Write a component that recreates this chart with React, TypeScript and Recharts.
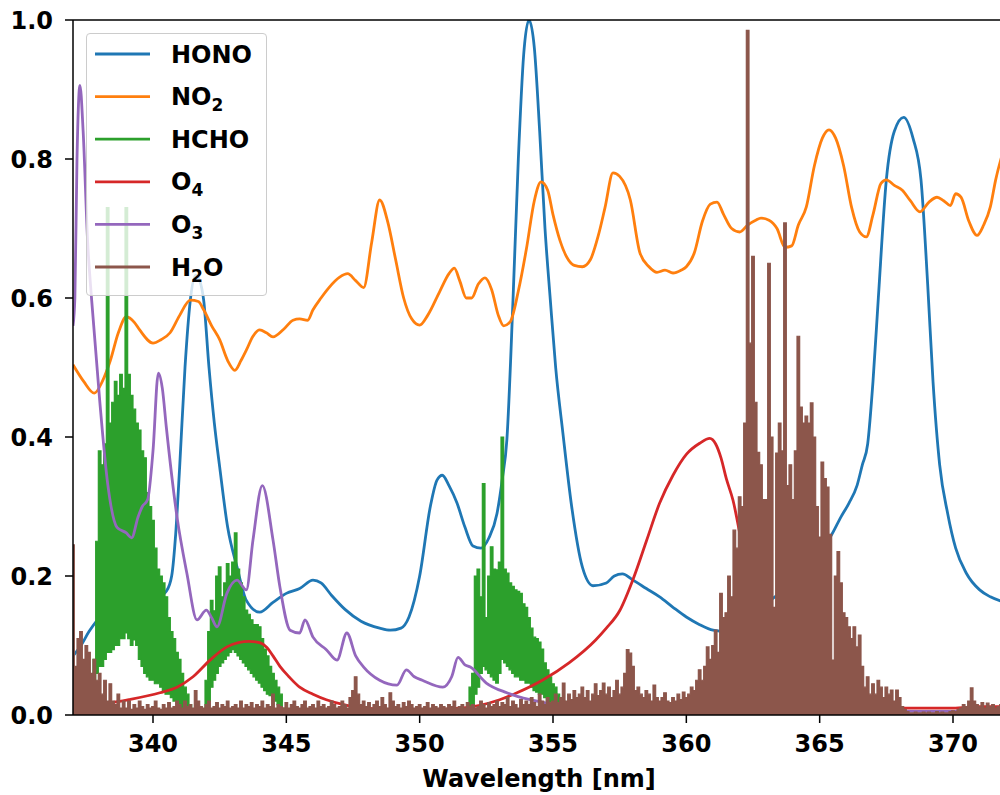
import React from 'react';
import { ComposedChart, Line, Area, XAxis, YAxis, ReferenceLine, Legend } from 'recharts';

// wavelength [nm], value
const honoPoints: [number, number][] = [
  [337.0, 0.085], [337.3, 0.1], [337.6, 0.12], [338.0, 0.14], [338.5, 0.15], [339.0, 0.155],
  [339.5, 0.16], [340.0, 0.167], [340.3, 0.172], [340.5, 0.178], [340.7, 0.2], [340.85, 0.26],
  [341.0, 0.357], [341.2, 0.5], [341.4, 0.597], [341.6, 0.633], [341.75, 0.625], [341.9, 0.597],
  [342.1, 0.5], [342.3, 0.42], [342.5, 0.357], [342.8, 0.27], [343.15, 0.213], [343.5, 0.165],
  [344.0, 0.148], [344.5, 0.162], [345.0, 0.175], [345.5, 0.182], [346.0, 0.194], [346.3, 0.19],
  [346.7, 0.172], [347.2, 0.152], [347.8, 0.135], [348.5, 0.125], [348.9, 0.122], [349.3, 0.125],
  [349.6, 0.141], [350.0, 0.2], [350.4, 0.3], [350.65, 0.338], [350.85, 0.345], [351.1, 0.33],
  [351.4, 0.305], [351.7, 0.27], [352.0, 0.243], [352.3, 0.24], [352.6, 0.255], [352.9, 0.29],
  [353.1, 0.34], [353.27, 0.396], [353.5, 0.597], [353.7, 0.8], [353.9, 0.95], [354.1, 1.0],
  [354.3, 0.96], [354.5, 0.84], [354.7, 0.7], [354.9, 0.597], [355.1, 0.5], [355.37, 0.406],
  [355.7, 0.3], [356.1, 0.213], [356.5, 0.186], [357.0, 0.19], [357.3, 0.2], [357.6, 0.203],
  [358.0, 0.194], [358.5, 0.182], [359.0, 0.17], [359.5, 0.155], [360.0, 0.141], [360.5, 0.13],
  [361.0, 0.122], [361.5, 0.12], [362.0, 0.125], [362.5, 0.14], [363.0, 0.16], [363.5, 0.175],
  [364.0, 0.19], [364.5, 0.21], [365.0, 0.235], [365.4, 0.256], [365.8, 0.285], [366.1, 0.305],
  [366.4, 0.33], [366.6, 0.36], [366.8, 0.39], [367.0, 0.48], [367.2, 0.6], [367.5, 0.77],
  [367.8, 0.84], [368.15, 0.86], [368.5, 0.83], [368.8, 0.77], [369.05, 0.62], [369.25, 0.48],
  [369.5, 0.36], [369.8, 0.29], [370.1, 0.24], [370.5, 0.204], [371.0, 0.18], [371.4, 0.17],
  [371.95, 0.162],
];

const no2Points: [number, number][] = [
  [337.0, 0.504], [337.4, 0.48], [337.8, 0.463], [338.1, 0.48], [338.4, 0.51], [338.7, 0.55],
  [339.0, 0.573], [339.3, 0.565], [339.5, 0.554], [340.0, 0.535], [340.3, 0.54], [340.64, 0.55],
  [341.0, 0.575], [341.4, 0.597], [341.7, 0.595], [341.9, 0.583], [342.2, 0.56], [342.5, 0.54],
  [342.8, 0.51], [343.07, 0.496], [343.3, 0.51], [343.5, 0.525], [343.75, 0.545], [344.0, 0.554],
  [344.25, 0.55], [344.5, 0.544], [344.9, 0.555], [345.25, 0.568], [345.5, 0.57], [345.8, 0.568],
  [346.0, 0.583], [346.3, 0.6], [346.6, 0.615], [347.0, 0.63], [347.3, 0.635], [347.6, 0.625],
  [347.9, 0.615], [348.2, 0.68], [348.5, 0.741], [348.8, 0.71], [349.1, 0.655], [349.4, 0.6],
  [349.7, 0.57], [350.0, 0.561], [350.3, 0.575], [350.76, 0.61], [351.1, 0.635], [351.3, 0.643],
  [351.5, 0.625], [351.75, 0.6], [351.95, 0.6], [352.2, 0.62], [352.45, 0.629], [352.7, 0.612],
  [352.95, 0.575], [353.15, 0.56], [353.4, 0.566], [353.7, 0.61], [354.0, 0.67], [354.3, 0.74],
  [354.55, 0.767], [354.8, 0.755], [355.0, 0.72], [355.26, 0.683], [355.5, 0.66], [355.8, 0.647],
  [356.1, 0.645], [356.4, 0.655], [356.7, 0.69], [356.95, 0.73], [357.25, 0.78], [357.5, 0.775],
  [357.9, 0.741], [358.26, 0.665], [358.6, 0.645], [358.9, 0.637], [359.2, 0.64], [359.5, 0.636],
  [359.8, 0.64], [360.0, 0.645], [360.3, 0.665], [360.6, 0.71], [360.9, 0.735], [361.15, 0.738],
  [361.4, 0.72], [361.7, 0.7], [362.0, 0.695], [362.3, 0.705], [362.6, 0.712], [362.8, 0.715],
  [363.1, 0.712], [363.4, 0.7], [363.7, 0.673], [363.95, 0.675], [364.2, 0.705], [364.5, 0.731],
  [364.8, 0.79], [365.1, 0.83], [365.35, 0.842], [365.6, 0.83], [365.9, 0.79], [366.2, 0.73],
  [366.5, 0.695], [366.75, 0.688], [367.0, 0.72], [367.3, 0.765], [367.5, 0.77], [367.8, 0.762],
  [368.1, 0.755], [368.4, 0.74], [368.76, 0.724], [369.1, 0.738], [369.4, 0.745], [369.65, 0.74],
  [369.9, 0.733], [370.1, 0.75], [370.3, 0.745], [370.6, 0.71], [370.9, 0.69], [371.15, 0.705],
  [371.4, 0.731], [371.6, 0.77], [371.95, 0.82],
];

// HCHO drawn as the band its dense oscillation fills: [wl, low, high]
const hchoBands: [number, number, number][] = [
  [337.0, 0, 0], [337.7, 0, 0.01], [337.8, 0.05, 0.08], [337.9, 0.06, 0.25], [338.0, 0.07, 0.38],
  [338.1, 0.07, 0.36], [338.2, 0.08, 0.39], [338.3, 0.09, 0.73], [338.4, 0.09, 0.42], [338.5, 0.094, 0.45],
  [338.6, 0.1, 0.48], [338.7, 0.1, 0.46], [338.8, 0.11, 0.49], [338.9, 0.11, 0.47], [339.0, 0.118, 0.73],
  [339.1, 0.11, 0.49], [339.2, 0.1, 0.46], [339.3, 0.108, 0.44], [339.4, 0.1, 0.42], [339.5, 0.08, 0.41],
  [339.6, 0.07, 0.38], [339.7, 0.06, 0.37], [339.8, 0.055, 0.32], [339.9, 0.05, 0.3], [340.0, 0.05, 0.28],
  [340.1, 0.045, 0.24], [340.2, 0.045, 0.21], [340.3, 0.04, 0.2], [340.4, 0.035, 0.19], [340.5, 0.03, 0.17],
  [340.6, 0.03, 0.14], [340.7, 0.025, 0.12], [340.8, 0.02, 0.11], [340.9, 0.02, 0.09], [341.0, 0.015, 0.08],
  [341.1, 0.01, 0.06], [341.2, 0.01, 0.04], [341.3, 0.005, 0.03], [341.4, 0, 0.015], [341.5, 0, 0],
  [341.9, 0, 0], [342.0, 0, 0.05], [342.1, 0.02, 0.12], [342.2, 0.04, 0.165], [342.3, 0.05, 0.15],
  [342.4, 0.06, 0.2], [342.5, 0.07, 0.213], [342.6, 0.075, 0.17], [342.7, 0.08, 0.19], [342.8, 0.085, 0.218],
  [342.9, 0.09, 0.2], [343.0, 0.094, 0.22], [343.1, 0.09, 0.262], [343.2, 0.085, 0.21], [343.3, 0.08, 0.19],
  [343.4, 0.075, 0.17], [343.5, 0.07, 0.151], [343.6, 0.065, 0.145], [343.7, 0.06, 0.137], [343.8, 0.055, 0.13],
  [343.9, 0.05, 0.13], [344.0, 0.046, 0.127], [344.1, 0.04, 0.11], [344.2, 0.035, 0.095], [344.3, 0.03, 0.085],
  [344.4, 0.028, 0.07], [344.5, 0.026, 0.06], [344.6, 0.02, 0.05], [344.7, 0.015, 0.04], [344.8, 0.01, 0.03],
  [344.9, 0, 0.01], [345.0, 0, 0], [351.7, 0, 0], [351.8, 0, 0.01], [351.9, 0.005, 0.04],
  [352.0, 0.01, 0.06], [352.1, 0.03, 0.2], [352.2, 0.04, 0.21], [352.3, 0.06, 0.17], [352.4, 0.07, 0.333],
  [352.5, 0.065, 0.14], [352.6, 0.06, 0.2], [352.7, 0.055, 0.242], [352.8, 0.05, 0.21], [352.9, 0.046, 0.209],
  [353.0, 0.06, 0.22], [353.1, 0.08, 0.4], [353.2, 0.075, 0.21], [353.3, 0.07, 0.204], [353.4, 0.065, 0.19],
  [353.5, 0.06, 0.185], [353.6, 0.055, 0.18], [353.7, 0.055, 0.178], [353.8, 0.05, 0.175], [353.9, 0.05, 0.16],
  [354.0, 0.046, 0.155], [354.1, 0.046, 0.14], [354.2, 0.04, 0.125], [354.3, 0.035, 0.112], [354.4, 0.033, 0.11],
  [354.5, 0.03, 0.105], [354.6, 0.03, 0.095], [354.7, 0.025, 0.075], [354.8, 0.02, 0.065], [354.9, 0.015, 0.055],
  [355.0, 0.012, 0.045], [355.1, 0.01, 0.04], [355.2, 0.008, 0.03], [355.3, 0.005, 0.025], [355.4, 0, 0.02],
  [355.5, 0, 0], [371.95, 0, 0],
];

const o4Points: [number, number][] = [
  [337.0, 0.01], [338.0, 0.015], [339.1, 0.022], [340.26, 0.032], [340.9, 0.04], [341.5, 0.055],
  [342.14, 0.079], [342.77, 0.098], [343.2, 0.104], [343.6, 0.106], [344.0, 0.104], [344.27, 0.097],
  [344.5, 0.085], [344.76, 0.07], [345.1, 0.055], [345.5, 0.04], [346.0, 0.03], [346.5, 0.022],
  [347.27, 0.014], [348.0, 0.01], [349.0, 0.008], [350.4, 0.008], [351.5, 0.01], [352.26, 0.014],
  [353.0, 0.022], [353.65, 0.032], [354.6, 0.05], [355.6, 0.075], [356.6, 0.108], [357.0, 0.125],
  [357.5, 0.15], [358.0, 0.195], [358.5, 0.25], [359.0, 0.305], [359.5, 0.345], [360.0, 0.375],
  [360.5, 0.391], [360.88, 0.398], [361.1, 0.39], [361.3, 0.37], [361.5, 0.34], [361.75, 0.309],
  [362.1, 0.242], [362.5, 0.17], [363.0, 0.1], [363.5, 0.06], [364.0, 0.04], [364.5, 0.028],
  [365.0, 0.02], [366.0, 0.013], [367.0, 0.011], [368.0, 0.01], [369.0, 0.01], [370.0, 0.01],
  [371.0, 0.012], [371.95, 0.012],
];

const o3Points: [number, number][] = [
  [337.0, 0.56], [337.07, 0.6], [337.15, 0.8], [337.26, 0.906], [337.38, 0.84], [337.55, 0.68],
  [337.7, 0.597], [338.0, 0.453], [338.3, 0.333], [338.65, 0.27], [339.0, 0.262], [339.2, 0.255],
  [339.44, 0.285], [339.6, 0.3], [339.8, 0.31], [340.0, 0.38], [340.2, 0.492], [340.35, 0.47],
  [340.5, 0.414], [340.9, 0.285], [341.27, 0.204], [341.65, 0.137], [342.0, 0.151], [342.2, 0.14],
  [342.4, 0.127], [342.77, 0.175], [343.15, 0.194], [343.5, 0.18], [343.75, 0.252], [344.1, 0.33],
  [344.5, 0.252], [344.76, 0.184], [345.14, 0.122], [345.5, 0.118], [345.7, 0.137], [346.0, 0.112],
  [346.5, 0.094], [346.9, 0.079], [347.27, 0.118], [347.6, 0.085], [347.9, 0.069], [348.5, 0.05],
  [349.15, 0.043], [349.5, 0.065], [349.8, 0.055], [350.1, 0.05], [350.87, 0.04], [351.2, 0.055],
  [351.44, 0.083], [351.7, 0.072], [351.9, 0.069], [352.5, 0.046], [353.27, 0.032], [354.14, 0.022],
  [354.77, 0.017], [356.0, 0.012], [358.0, 0.01], [360.0, 0.008], [365.0, 0.006], [371.95, 0.005],
];

// H2O on a 0.1 nm grid from 337.0 nm, one row per nm
const h2oStart = 337.0;
const h2oStep = 0.1;
const h2oValues: number[] = [
  0.245, 0.07, 0.11, 0.12, 0.08, 0.1, 0.09, 0.06, 0.08, 0.05, // 337
  0.06, 0.03, 0.05, 0.02, 0.045, 0.02, 0.015, 0.03, 0.01, 0.02, // 338
  0.01, 0.02, 0.008, 0.015, 0.01, 0.02, 0.012, 0.008, 0.015, 0.01, // 339
  0.012, 0.02, 0.01, 0.008, 0.015, 0.01, 0.018, 0.01, 0.012, 0.02, // 340
  0.015, 0.01, 0.02, 0.012, 0.015, 0.01, 0.035, 0.02, 0.012, 0.01, // 341
  0.015, 0.02, 0.01, 0.012, 0.018, 0.01, 0.015, 0.012, 0.02, 0.01, // 342
  0.012, 0.015, 0.01, 0.02, 0.01, 0.015, 0.012, 0.018, 0.01, 0.015, // 343
  0.012, 0.02, 0.01, 0.015, 0.012, 0.03, 0.01, 0.015, 0.012, 0.01, // 344
  0.018, 0.01, 0.015, 0.02, 0.012, 0.01, 0.015, 0.02, 0.01, 0.012, // 345
  0.015, 0.01, 0.02, 0.012, 0.015, 0.01, 0.012, 0.02, 0.015, 0.01, // 346
  0.012, 0.02, 0.015, 0.01, 0.025, 0.035, 0.055, 0.03, 0.015, 0.02, // 347
  0.012, 0.018, 0.01, 0.015, 0.02, 0.012, 0.025, 0.015, 0.01, 0.032, // 348
  0.02, 0.012, 0.015, 0.01, 0.018, 0.012, 0.02, 0.015, 0.01, 0.012, // 349
  0.015, 0.01, 0.012, 0.018, 0.01, 0.015, 0.012, 0.01, 0.015, 0.012, // 350
  0.01, 0.015, 0.012, 0.02, 0.01, 0.012, 0.015, 0.01, 0.018, 0.012, // 351
  0.015, 0.01, 0.012, 0.02, 0.015, 0.01, 0.018, 0.012, 0.015, 0.02, // 352
  0.012, 0.018, 0.015, 0.025, 0.012, 0.02, 0.015, 0.01, 0.022, 0.015, // 353
  0.02, 0.015, 0.025, 0.018, 0.012, 0.03, 0.02, 0.015, 0.025, 0.018, // 354
  0.02, 0.03, 0.018, 0.025, 0.046, 0.02, 0.03, 0.022, 0.035, 0.025, // 355
  0.03, 0.04, 0.025, 0.035, 0.02, 0.03, 0.045, 0.028, 0.035, 0.046, // 356
  0.03, 0.04, 0.025, 0.035, 0.05, 0.03, 0.04, 0.06, 0.094, 0.089, // 357
  0.07, 0.035, 0.04, 0.03, 0.025, 0.035, 0.03, 0.02, 0.043, 0.025, // 358
  0.02, 0.025, 0.032, 0.02, 0.018, 0.025, 0.02, 0.03, 0.022, 0.033, // 359
  0.025, 0.03, 0.04, 0.035, 0.05, 0.065, 0.05, 0.07, 0.098, 0.08, // 360
  0.1, 0.122, 0.09, 0.175, 0.14, 0.147, 0.2, 0.17, 0.266, 0.24, // 361
  0.314, 0.3, 0.42, 0.985, 0.535, 0.66, 0.45, 0.378, 0.36, 0.31, // 362
  0.31, 0.65, 0.4, 0.155, 0.377, 0.42, 0.38, 0.708, 0.33, 0.36, // 363
  0.31, 0.38, 0.545, 0.443, 0.42, 0.43, 0.42, 0.449, 0.4, 0.3, // 364
  0.256, 0.364, 0.34, 0.328, 0.26, 0.079, 0.2, 0.235, 0.19, 0.147, // 365
  0.14, 0.127, 0.11, 0.127, 0.098, 0.115, 0.07, 0.04, 0.055, 0.03, // 366
  0.045, 0.03, 0.05, 0.04, 0.025, 0.04, 0.03, 0.036, 0.02, 0.036, // 367
  0.025, 0.012, 0.008, 0.005, 0.003, 0.003, 0.004, 0.003, 0.003, 0.004, // 368
  0.003, 0.004, 0.003, 0.003, 0.005, 0.003, 0.004, 0.003, 0.003, 0.005, // 369
  0.006, 0.005, 0.008, 0.01, 0.015, 0.012, 0.02, 0.039, 0.02, 0.015, // 370
  0.012, 0.018, 0.01, 0.017, 0.012, 0.015, 0.01, 0.012, 0.015, 0.012, // 371
];

const xTicks = [340, 345, 350, 355, 360, 365, 370];
const yTicks = [0, 0.2, 0.4, 0.6, 0.8, 1.0];

const COLORS = {
  hono: '#1f77b4',
  no2: '#ff7f0e',
  hcho: '#2ca02c',
  o4: '#d62728',
  o3: '#9467bd',
  h2o: '#8c564b',
};

const toRows = (pts: [number, number][]) => pts.map(([wl, v]) => ({ wl, v }));
const honoData = toRows(honoPoints);
const no2Data = toRows(no2Points);
const o4Data = toRows(o4Points);
const o3Data = toRows(o3Points);
const hchoData = hchoBands.map(([wl, lo, hi]) => ({ wl, r: [lo, hi] }));
const h2oData = h2oValues.map((v, i) => ({ wl: +(h2oStart + i * h2oStep).toFixed(2), v }));

const FONT = "'DejaVu Sans', sans-serif";
const tickStyle = { fontSize: 24, fontWeight: 700, fill: '#000', fontFamily: FONT };
const LW = 2.8;

const legendItems = [
  { color: COLORS.hono, parts: [['HONO', false]] },
  { color: COLORS.no2, parts: [['NO', false], ['2', true]] },
  { color: COLORS.hcho, parts: [['HCHO', false]] },
  { color: COLORS.o4, parts: [['O', false], ['4', true]] },
  { color: COLORS.o3, parts: [['O', false], ['3', true]] },
  { color: COLORS.h2o, parts: [['H', false], ['2', true], ['O', false]] },
];

function LegendBox() {
  return (
    <div
      style={{
        width: 181,
        height: 263,
        background: 'rgba(255,255,255,0.8)',
        border: '1px solid #cccccc',
        borderRadius: 4,
        boxSizing: 'border-box',
      }}
    >
      <svg width={181} height={263} style={{ position: 'absolute', left: 0, top: 0 }}>
        {legendItems.map((item, i) => {
          const cy = 21 + i * 42.6;
          return (
            <g key={i}>
              <line x1={9} x2={64} y1={cy} y2={cy} stroke={item.color} strokeWidth={LW} />
              <text x={85} y={cy + 8.5} fontFamily={FONT} fontWeight={700} fontSize={24} fill="#000">
                {item.parts.map(([t, sub], j) => {
                  const prevSub = j > 0 && item.parts[j - 1][1];
                  const dy = sub ? 6 : prevSub ? -6 : 0;
                  return (
                    <tspan key={j} dy={dy} fontSize={sub ? 17 : 24}>
                      {t as string}
                    </tspan>
                  );
                })}
              </text>
            </g>
          );
        })}
      </svg>
    </div>
  );
}

export default function App() {
  return (
    <div
      style={{
        position: 'absolute',
        left: 0,
        top: 0,
        width: 1000,
        height: 795,
        overflow: 'hidden',
        background: '#fff',
        fontFamily: FONT,
      }}
    >
      <ComposedChart width={1005} height={795} margin={{ top: 20, right: 0, bottom: 0, left: 0 }}>
        <XAxis
          type="number"
          dataKey="wl"
          domain={[337, 371.95]}
          ticks={xTicks}
          allowDataOverflow
          height={80}
          tick={tickStyle}
          tickSize={8}
          tickMargin={12}
          axisLine={{ stroke: '#000', strokeWidth: 1.5 }}
          tickLine={{ stroke: '#000', strokeWidth: 1.5 }}
          label={{
            value: 'Wavelength [nm]',
            position: 'insideBottom',
            offset: 8,
            style: { fontSize: 24, fontWeight: 700, fill: '#000', fontFamily: FONT },
          }}
        />
        <YAxis
          type="number"
          domain={[0, 1]}
          ticks={yTicks}
          allowDataOverflow
          width={73}
          tick={tickStyle}
          tickSize={8}
          tickMargin={12}
          tickFormatter={(v: number) => v.toFixed(1)}
          axisLine={{ stroke: '#000', strokeWidth: 1.5 }}
          tickLine={{ stroke: '#000', strokeWidth: 1.5 }}
        />
        <Line zIndex={410} data={honoData} dataKey="v" type="monotone" stroke={COLORS.hono} strokeWidth={LW} dot={false} activeDot={false} isAnimationActive={false} />
        <Line zIndex={420} data={no2Data} dataKey="v" type="monotone" stroke={COLORS.no2} strokeWidth={LW} dot={false} activeDot={false} isAnimationActive={false} />
        <Area zIndex={430} data={hchoData} dataKey="r" type="step" stroke={COLORS.hcho} strokeWidth={1.2} fill={COLORS.hcho} fillOpacity={1} dot={false} activeDot={false} isAnimationActive={false} />
        <Line zIndex={440} data={o4Data} dataKey="v" type="monotone" stroke={COLORS.o4} strokeWidth={LW} dot={false} activeDot={false} isAnimationActive={false} />
        <Line zIndex={450} data={o3Data} dataKey="v" type="monotone" stroke={COLORS.o3} strokeWidth={LW} dot={false} activeDot={false} isAnimationActive={false} />
        <Area zIndex={460} data={h2oData} dataKey="v" type="step" stroke={COLORS.h2o} strokeWidth={1.2} fill={COLORS.h2o} fillOpacity={1} dot={false} activeDot={false} isAnimationActive={false} />
        <ReferenceLine zIndex={500} y={1} stroke="#000" strokeWidth={1.5} />
        <Legend
          layout="horizontal"
          verticalAlign="middle"
          align="center"
          wrapperStyle={{ position: 'absolute', left: 86, top: 33, width: 181, height: 263 }}
          content={() => <LegendBox />}
        />
      </ComposedChart>
    </div>
  );
}
